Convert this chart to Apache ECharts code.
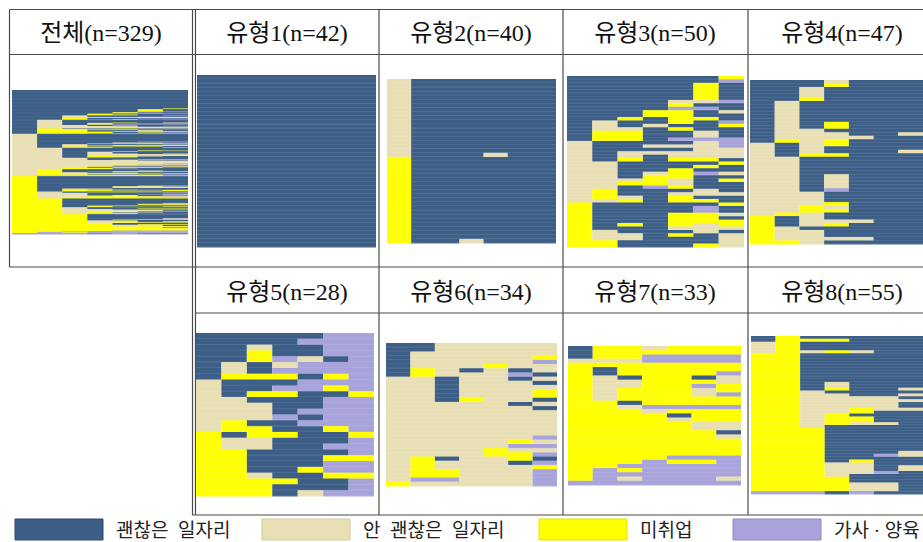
<!DOCTYPE html>
<html>
<head>
<meta charset="utf-8">
<title>유형별 일자리 상태 배열</title>
<script src="https://cdn.jsdelivr.net/npm/echarts@6/dist/echarts.min.js"></script>
<style>
  html, body { margin: 0; padding: 0; background: #fff; }
  #chart { width: 923px; height: 542px; }
</style>
</head>
<body>
<div id="chart"></div>
<script>
// states: D 괜찮은 일자리, U 안 괜찮은 일자리, N 미취업, H 가사·양육
const STATE_CODES = "DUNH";
const STATE_NAMES = ["괜찮은  일자리", "안  괜찮은  일자리", "미취업", "가사 · 양육"];
const PERIOD_COUNT = 7;
const TOTAL_NAME = "전체";
const TYPE_NAMES = ["유형1", "유형2", "유형3", "유형4", "유형5", "유형6", "유형7", "유형8"];

// rows as [count, sequence], top to bottom
const type1Rows = [[42, "DDDDDDD"]];

const type2Rows = [
  [18, "UDDDDDD"], [1, "UDDDUDD"], [20, "NDDDDDD"], [1, "NDDUDDD"]
];

const type3Rows = [
  [1, "DDDDDDN"], [1, "DDDDDDH"], [5, "DDDDDND"], [1, "DDDDUUH"], [1, "DDDDNDD"],
  [1, "DDDDHHD"], [1, "DDDNNDU"], [1, "DDDNNDD"], [1, "DDNDNND"], [1, "DUDDNDH"],
  [1, "DUDUDDN"], [1, "DUUDNDD"], [2, "DNNDDUD"], [1, "DNNDHHH"],
  [1, "UDDDDUH"], [1, "UDDUUUH"], [1, "UDDDDUU"], [1, "UDUUUUU"], [1, "UDUDUUU"],
  [1, "UDNDNND"], [1, "UUDDDDN"], [1, "UUDDDND"], [1, "UUDDNDD"], [1, "UUDUNHU"],
  [1, "UUDNNDD"], [1, "UUUNUDN"], [1, "UUNNUDD"], [1, "UUDHNDD"], [1, "UNDDDUD"],
  [1, "UNDDUUU"], [1, "UNUDNDD"], [1, "UUNDNND"],
  [1, "NDDDDDN"], [2, "NDDDDHD"], [1, "NDDDNNU"], [1, "NDDDNND"], [1, "NDDDNNN"],
  [1, "NDNDNUN"], [1, "NDDDUUU"], [1, "NUDDDUD"], [1, "NUUDNDU"], [1, "NUUDDDU"],
  [1, "NNDDDDU"], [1, "NNDDDNU"]
];

const type4Rows = [
  [1, "DDDUDDD"], [1, "DDDNDDD"], [3, "DDUDDDD"], [1, "DDNDDDD"], [6, "DUDDDDD"],
  [2, "DUDNDDD"], [1, "DUUDDDD"], [1, "DUUUDDU"], [1, "DUUUUDD"], [1, "DNUNDDD"],
  [1, "UDUNDDD"], [1, "UDUDDDD"], [1, "UDUDDDU"], [1, "UDNNDDD"], [5, "UUDDDDD"],
  [4, "UUDUDDD"], [1, "UUDHDDD"], [3, "UUUDDDD"], [1, "UUUNDDD"], [1, "UUNUDDD"],
  [1, "UUNNDDD"], [1, "UNUDDDD"],
  [1, "NDUDDDD"], [1, "NDUUUDD"], [1, "NDUNDDD"], [1, "NUDDDDD"], [2, "NUUDDDD"],
  [1, "NUUUUDD"], [1, "NNUDDDD"]
];

const type5Rows = [
  [1, "DDDDDHH"], [1, "DDDDHHH"], [1, "DDUDDHH"], [1, "DDNDDHH"], [1, "DDNHUDH"],
  [1, "DUDUHHH"], [1, "DUDHHHH"], [1, "DNNNDNH"], [1, "UDDDHHH"], [1, "UDDHHNH"],
  [1, "UDNNDDN"], [1, "UUDDDHH"], [1, "UUUDDHH"], [1, "UUUDHHH"], [1, "UUUHDHH"],
  [1, "UNDDHHH"], [1, "UNNDDNH"], [1, "NDNNDDN"], [1, "NUUDDDH"], [1, "NUUDDHH"],
  [1, "NNDDDDH"], [1, "NNDDDNN"], [1, "NNDDDHH"], [1, "NNDDNHH"], [1, "NNUDDNN"],
  [1, "NNNNDDH"], [1, "NNNDDDH"], [1, "NNNDUHH"]
];

const type6Rows = [
  [2, "DDUUUUU"], [1, "DUUUUUU"], [1, "DUUUUUN"], [1, "DUUUUUH"], [1, "DUUUNUU"],
  [1, "DNUDUDU"], [1, "DNUUUHD"], [1, "UUDUUDU"], [1, "UUDUUUD"], [1, "UUDUUUU"],
  [2, "UUDUUUN"], [1, "UUDNUUD"], [1, "UUUUUDU"], [1, "UUUUUUD"], [6, "UUUUUUU"],
  [1, "UUUUUUH"], [1, "UUUUUNU"], [1, "UUUUUHH"], [1, "UUUUNUU"], [1, "UUUUNNH"],
  [1, "UNDUUND"], [1, "UNUUUDH"], [1, "UNUUUUN"], [2, "UNNUUUH"], [1, "UHHUUUH"],
  [1, "NUUUUUH"]
];

const type7Rows = [
  [1, "DNNUNNN"], [1, "DNNNNNN"], [1, "DNNHHHH"], [1, "UUUHHHH"], [1, "NNNNNNN"],
  [1, "NDNNNNN"], [1, "NDNNNNH"], [1, "NUDNNDU"], [1, "NUUNNNU"], [1, "NUUNNHN"],
  [1, "NUNNNUN"], [1, "NUNNNUH"], [1, "NUNNNNN"], [1, "NNDNNNN"], [1, "NNUHHHH"],
  [1, "NNNUNNN"], [1, "NNNNDNN"], [1, "NNNNUNN"], [2, "NNNNNUU"], [1, "NNNNNND"],
  [1, "NNNNNNU"], [4, "NNNNNNN"], [1, "NNNNHHH"], [1, "NNNHNNH"], [1, "NNHHHHH"],
  [1, "NHNHHHH"], [1, "NHHHHHH"], [1, "NHUHHHU"], [1, "HHHHHHH"]
];

const type8Rows = [
  [1, "DNDDDDD"], [1, "DNNNDDD"], [3, "UNDDDDD"], [1, "UNUNUDD"], [10, "NNDDDDD"],
  [2, "NNDUDDD"], [1, "NNDNDDU"], [1, "NNUDDDD"], [1, "NNUUDDU"], [1, "NNUUUUD"],
  [1, "NNUUUUU"], [2, "NNUUUUD"], [1, "NNUUNUU"], [1, "NNUUNDD"], [1, "NNUNDDD"],
  [2, "NNUNNDD"], [1, "NNUNUUD"], [1, "NNUDDDD"], [8, "NNNDDDD"], [1, "NNNDDDU"],
  [1, "NNNDDHU"], [1, "NNNDDDD"], [1, "NNNDNDD"], [1, "NNNUUDD"], [2, "NNNUUDU"],
  [1, "NNNUUHD"], [1, "NNNUDDD"], [2, "NNNNDDD"], [3, "NNNNUUD"], [1, "HHHDHDD"]
];

const TYPE_ROWS = [type1Rows, type2Rows, type3Rows, type4Rows, type5Rows, type6Rows, type7Rows, type8Rows];

const COLORS = ["#3d5f87", "#e9dfb5", "#ffff00", "#a9a3dc"];
const LEGEND_BORDERS = ["#2c4a6c", "#d6cca0", "#e6e600", "#8f89c6"];
const FONT = "'Liberation Serif', 'Noto Sans CJK KR', serif";

// panel boxes [left, top, width, height] and header centers
const BOXES = [
  [12, 90, 176, 144],
  [197, 75, 179, 172], [387, 79, 169, 164], [567, 76, 177, 171], [750, 80, 179, 164],
  [196, 333, 178, 163], [386, 343, 171, 143], [568, 346, 173, 139], [751, 336, 177, 158]
];
const HEADS = [
  [101, 33], [287, 33], [471, 33], [655, 33], [842, 33],
  [287, 292], [471, 292], [655, 292], [842, 292]
];

function expand(runs) {
  const out = [];
  runs.forEach(([count, seq]) => {
    for (let i = 0; i < count; i++) out.push(seq);
  });
  return out;
}

const rank = (seq) => seq.split("").map((c) => STATE_CODES.indexOf(c)).join("");
const typeSeqs = TYPE_ROWS.map(expand);
const totalSeqs = typeSeqs.flat().sort((a, b) => {
  const ra = rank(a), rb = rank(b);
  return ra < rb ? -1 : ra > rb ? 1 : 0;
});

const panels = [{ name: TOTAL_NAME, seqs: totalSeqs, striped: false }]
  .concat(TYPE_NAMES.map((name, i) => ({ name, seqs: typeSeqs[i], striped: true })));

// one item per run of equal states in a row: [startCol, endCol, row, state]
function toSpells(seqs) {
  const items = [];
  seqs.forEach((seq, row) => {
    let start = 0;
    for (let col = 1; col <= seq.length; col++) {
      if (col === seq.length || seq[col] !== seq[start]) {
        items.push([start, col, row, STATE_CODES.indexOf(seq[start])]);
        start = col;
      }
    }
  });
  return items;
}

const grid = [], xAxis = [], yAxis = [], series = [];

panels.forEach((panel, i) => {
  const [left, top, width, height] = BOXES[i];
  grid.push({ left, top, width, height });
  xAxis.push({ type: "value", gridIndex: i, min: 0, max: PERIOD_COUNT, show: false });
  yAxis.push({ type: "value", gridIndex: i, min: 0, max: panel.seqs.length, inverse: true, show: false });

  series.push({
    type: "custom",
    xAxisIndex: i,
    yAxisIndex: i,
    silent: true,
    animation: false,
    encode: { x: [0, 1], y: 2 },
    data: toSpells(panel.seqs),
    renderItem(params, api) {
      const a = api.coord([api.value(0), api.value(2)]);
      const b = api.coord([api.value(1), api.value(2) + 1]);
      const children = [{
        type: "rect",
        shape: { x: a[0], y: a[1], width: b[0] - a[0], height: b[1] - a[1] + 0.5 },
        style: { fill: COLORS[api.value(3)] }
      }];
      if (panel.striped) {
        children.push({
          type: "line",
          shape: { x1: a[0], y1: b[1], x2: b[0], y2: b[1] },
          style: { stroke: "rgba(255,255,255,0.2)", lineWidth: 0.8 }
        });
      }
      return { type: "group", children };
    }
  });
});

// table rules
const LINE_COLOR = "#4a4a4a";
const tableLines = [
  [9.5, 9.5, 923, 9.5],
  [9.5, 54.5, 923, 54.5],
  [9.5, 9.5, 9.5, 267],
  [9.5, 267, 923, 267],
  [195.5, 313, 923, 313],
  [192.5, 515, 923, 515],
  [192.5, 9.5, 192.5, 515],
  [195.5, 9.5, 195.5, 515],
  [379, 9.5, 379, 515],
  [563, 9.5, 563, 515],
  [748, 9.5, 748, 515]
];

const graphic = tableLines.map(([x1, y1, x2, y2]) => ({
  type: "line",
  silent: true,
  shape: { x1, y1, x2, y2 },
  style: { stroke: LINE_COLOR, lineWidth: 1.2 }
}));

panels.forEach((panel, i) => {
  graphic.push({
    type: "text",
    silent: true,
    x: HEADS[i][0],
    y: HEADS[i][1],
    style: {
      text: `${panel.name}(n=${panel.seqs.length})`,
      fill: "#111",
      font: `24px ${FONT}`,
      align: "center",
      verticalAlign: "middle",
      textAlign: "center",
      textVerticalAlign: "middle"
    }
  });
});

// legend
const LEGEND_X = [15, 262, 539, 733];
STATE_NAMES.forEach((name, i) => {
  graphic.push({
    type: "rect",
    silent: true,
    shape: { x: LEGEND_X[i], y: 519, width: 88, height: 21 },
    style: { fill: COLORS[i], stroke: LEGEND_BORDERS[i], lineWidth: 1 }
  });
  graphic.push({
    type: "text",
    silent: true,
    x: LEGEND_X[i] + 101,
    y: 530,
    style: {
      text: name,
      fill: "#222",
      font: `19px ${FONT}`,
      align: "left",
      verticalAlign: "middle",
      textAlign: "left",
      textVerticalAlign: "middle"
    }
  });
});

const chart = echarts.init(document.getElementById("chart"), null, { renderer: "svg" });
chart.setOption({
  animation: false,
  backgroundColor: "#ffffff",
  grid,
  xAxis,
  yAxis,
  series,
  graphic
});
</script>
</body>
</html>
